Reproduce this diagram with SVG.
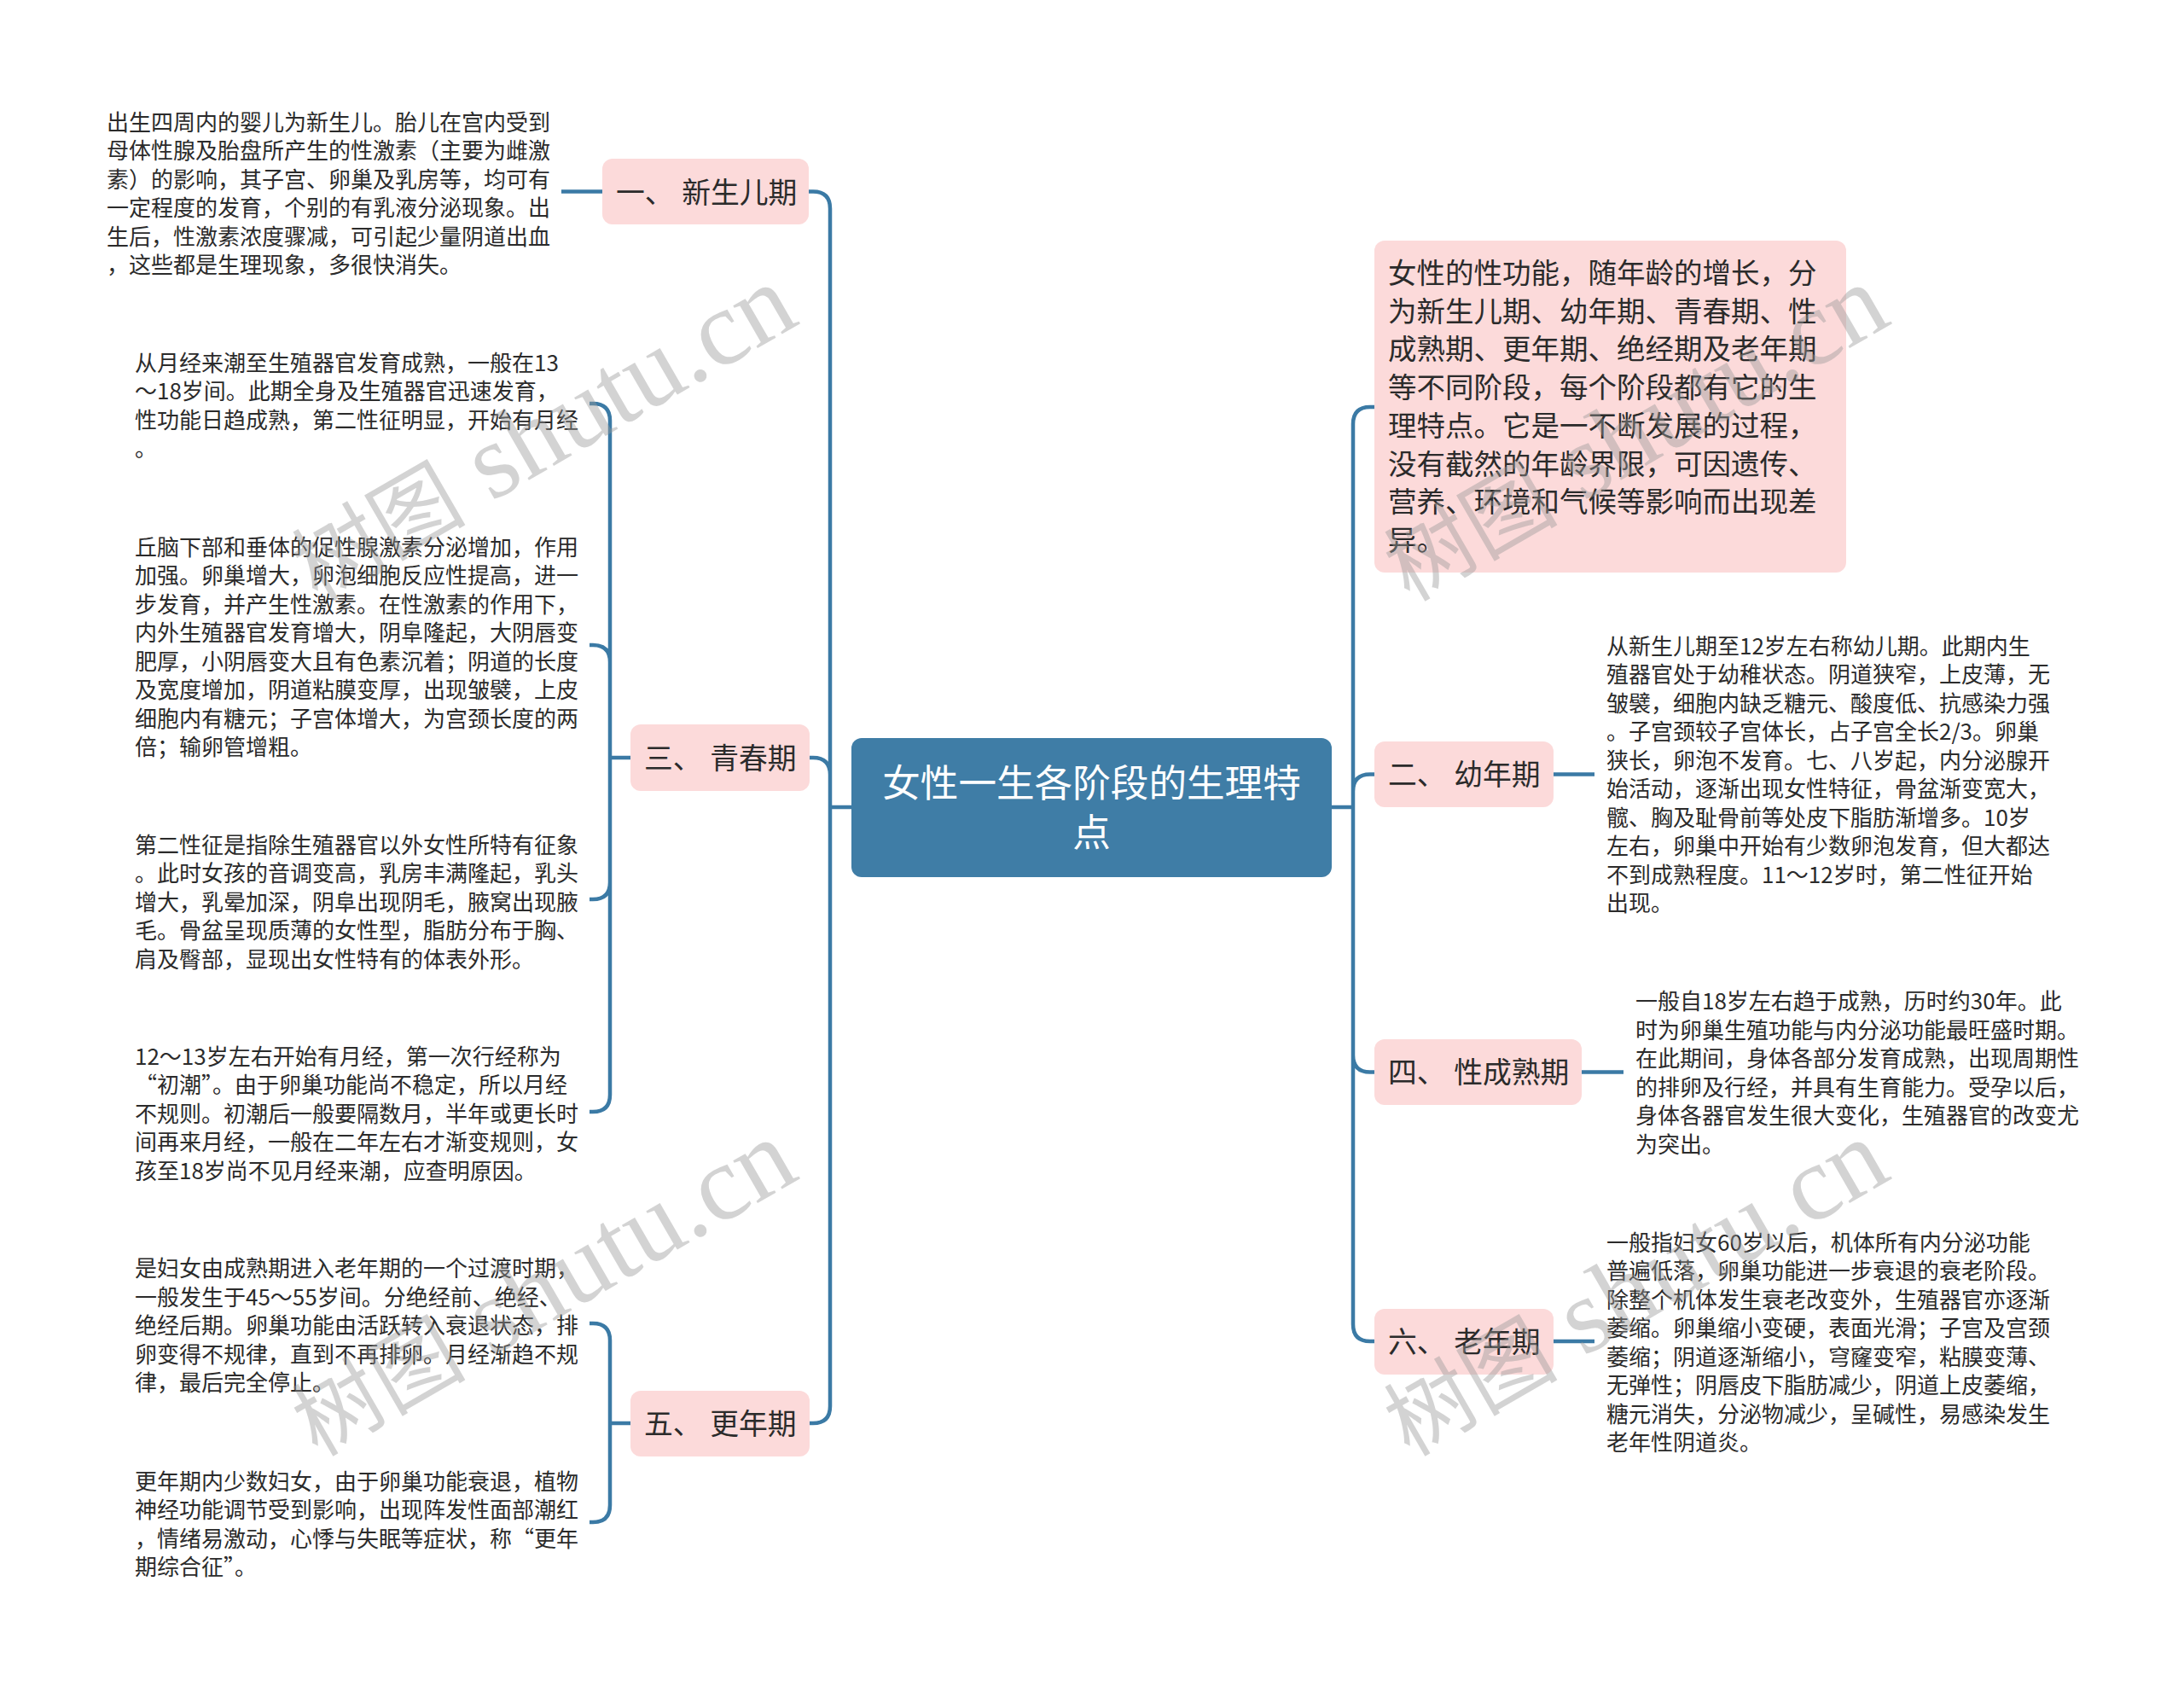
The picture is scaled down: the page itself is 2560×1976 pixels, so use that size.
<svg xmlns="http://www.w3.org/2000/svg" width="2560" height="1976" viewBox="0 0 2560 1976">
<style>
text{font-family:"Noto Sans CJK SC","Liberation Sans",sans-serif;fill:#2b2b2b}
.s{font-size:26px}
.m{font-size:33.8px;word-spacing:2px}
.i{font-size:33.5px}
.r{font-size:44.6px;fill:#fff;text-anchor:middle}
.n{fill:#fcdada}
.c{fill:none;stroke:#3b7aa5;stroke-width:4.5}
.w{font-family:"Liberation Serif","Noto Sans CJK SC",serif;font-size:125px;fill:#999;opacity:.42}
.w .h{font-size:102px}
</style>
<rect width="2560" height="1976" fill="#fff"/>
<g id="connectors">
<path class="c" d="M948 224.5h5q20 0 20 20V1648q0 20-20 20h-4M949 888h4q20 0 20 20M998 946H973"/>
<path class="c" d="M691 473h4q20 0 20 20V1283q0 20-20 20h-4M691 756h4q20 0 20 20M691 1054h4q20 0 20-20M739 888H715"/>
<path class="c" d="M691 1551h4q20 0 20 20V1764q0 20-20 20h-4M739 1668H715"/>
<path class="c" d="M1611 477h-5q-20 0-20 20V1552q0 20 20 20h5M1611 907.5h-5q-20 0-20 20M1611 1256.5h-5q-20 0-20-20M1561 946H1586"/>
<path class="c" d="M1821 907.5H1869M1854 1256.5H1903M1821 1572H1869M706 224.5H658"/>
</g>
<g id="root"><rect x="998" y="865" width="563" height="163" rx="12" fill="#3f7da6"/>
<text class="r" y="934"><tspan x="1279.5">女性一生各阶段的生理特</tspan><tspan x="1279.5" dy="58">点</tspan></text></g>
<g id="n1"><rect class="n" x="706" y="186" width="242" height="77" rx="12"/><text class="m" x="722" y="238">一、 新生儿期</text></g>
<g id="n3"><rect class="n" x="739" y="849" width="210" height="78" rx="12"/><text class="m" x="755" y="901">三、 青春期</text></g>
<g id="n5"><rect class="n" x="739" y="1630" width="210" height="77" rx="12"/><text class="m" x="755" y="1681">五、 更年期</text></g>
<g id="intro"><rect class="n" x="1611" y="282" width="553" height="389" rx="12"/>
<text class="i" y="332"><tspan x="1627">女性的性功能，随年龄的增长，分</tspan><tspan x="1627" dy="44.7">为新生儿期、幼年期、青春期、性</tspan><tspan x="1627" dy="44.7">成熟期、更年期、绝经期及老年期</tspan><tspan x="1627" dy="44.7">等不同阶段，每个阶段都有它的生</tspan><tspan x="1627" dy="44.7">理特点。它是一不断发展的过程，</tspan><tspan x="1627" dy="44.7">没有截然的年龄界限，可因遗传、</tspan><tspan x="1627" dy="44.7">营养、环境和气候等影响而出现差</tspan><tspan x="1627" dy="44.7">异。</tspan></text></g>
<g id="n2"><rect class="n" x="1611" y="869" width="210" height="77" rx="12"/><text class="m" x="1627" y="919.5">二、 幼年期</text></g>
<g id="n4"><rect class="n" x="1611" y="1218" width="243" height="77" rx="12"/><text class="m" x="1627" y="1268.5">四、 性成熟期</text></g>
<g id="n6"><rect class="n" x="1611" y="1534" width="210" height="77" rx="12"/><text class="m" x="1627" y="1584.5">六、 老年期</text></g>
<g id="t1"><text class="s" y="152.5"><tspan x="125">出生四周内的婴儿为新生儿。胎儿在宫内受到</tspan><tspan x="125" dy="33.5">母体性腺及胎盘所产生的性激素（主要为雌激</tspan><tspan x="125" dy="33.5">素）的影响，其子宫、卵巢及乳房等，均可有</tspan><tspan x="125" dy="33.5">一定程度的发育，个别的有乳液分泌现象。出</tspan><tspan x="125" dy="33.5">生后，性激素浓度骤减，可引起少量阴道出血</tspan><tspan x="125" dy="33.5">，这些都是生理现象，多很快消失。</tspan></text></g>
<g id="t3a"><text class="s" y="434.5"><tspan x="158">从月经来潮至生殖器官发育成熟，一般在13</tspan><tspan x="158" dy="33.5">～18岁间。此期全身及生殖器官迅速发育，</tspan><tspan x="158" dy="33.5">性功能日趋成熟，第二性征明显，开始有月经</tspan><tspan x="158" dy="33.5">。</tspan></text></g>
<g id="t3b"><text class="s" y="650.5"><tspan x="158">丘脑下部和垂体的促性腺激素分泌增加，作用</tspan><tspan x="158" dy="33.5">加强。卵巢增大，卵泡细胞反应性提高，进一</tspan><tspan x="158" dy="33.5">步发育，并产生性激素。在性激素的作用下，</tspan><tspan x="158" dy="33.5">内外生殖器官发育增大，阴阜隆起，大阴唇变</tspan><tspan x="158" dy="33.5">肥厚，小阴唇变大且有色素沉着；阴道的长度</tspan><tspan x="158" dy="33.5">及宽度增加，阴道粘膜变厚，出现皱襞，上皮</tspan><tspan x="158" dy="33.5">细胞内有糖元；子宫体增大，为宫颈长度的两</tspan><tspan x="158" dy="33.5">倍；输卵管增粗。</tspan></text></g>
<g id="t3c"><text class="s" y="999.5"><tspan x="158">第二性征是指除生殖器官以外女性所特有征象</tspan><tspan x="158" dy="33.5">。此时女孩的音调变高，乳房丰满隆起，乳头</tspan><tspan x="158" dy="33.5">增大，乳晕加深，阴阜出现阴毛，腋窝出现腋</tspan><tspan x="158" dy="33.5">毛。骨盆呈现质薄的女性型，脂肪分布于胸、</tspan><tspan x="158" dy="33.5">肩及臀部，显现出女性特有的体表外形。</tspan></text></g>
<g id="t3d"><text class="s" y="1247.5"><tspan x="158">12～13岁左右开始有月经，第一次行经称为</tspan><tspan x="158" dy="33.5">“初潮”。由于卵巢功能尚不稳定，所以月经</tspan><tspan x="158" dy="33.5">不规则。初潮后一般要隔数月，半年或更长时</tspan><tspan x="158" dy="33.5">间再来月经，一般在二年左右才渐变规则，女</tspan><tspan x="158" dy="33.5">孩至18岁尚不见月经来潮，应查明原因。</tspan></text></g>
<g id="t5a"><text class="s" y="1496"><tspan x="158">是妇女由成熟期进入老年期的一个过渡时期，</tspan><tspan x="158" dy="33.5">一般发生于45～55岁间。分绝经前、绝经、</tspan><tspan x="158" dy="33.5">绝经后期。卵巢功能由活跃转入衰退状态，排</tspan><tspan x="158" dy="33.5">卵变得不规律，直到不再排卵。月经渐趋不规</tspan><tspan x="158" dy="33.5">律，最后完全停止。</tspan></text></g>
<g id="t5b"><text class="s" y="1745.5"><tspan x="158">更年期内少数妇女，由于卵巢功能衰退，植物</tspan><tspan x="158" dy="33.5">神经功能调节受到影响，出现阵发性面部潮红</tspan><tspan x="158" dy="33.5">，情绪易激动，心悸与失眠等症状，称“更年</tspan><tspan x="158" dy="33.5">期综合征”。</tspan></text></g>
<g id="t2"><text class="s" y="766.5"><tspan x="1883">从新生儿期至12岁左右称幼儿期。此期内生</tspan><tspan x="1883" dy="33.5">殖器官处于幼稚状态。阴道狭窄，上皮薄，无</tspan><tspan x="1883" dy="33.5">皱襞，细胞内缺乏糖元、酸度低、抗感染力强</tspan><tspan x="1883" dy="33.5">。子宫颈较子宫体长，占子宫全长2/3。卵巢</tspan><tspan x="1883" dy="33.5">狭长，卵泡不发育。七、八岁起，内分泌腺开</tspan><tspan x="1883" dy="33.5">始活动，逐渐出现女性特征，骨盆渐变宽大，</tspan><tspan x="1883" dy="33.5">髋、胸及耻骨前等处皮下脂肪渐增多。10岁</tspan><tspan x="1883" dy="33.5">左右，卵巢中开始有少数卵泡发育，但大都达</tspan><tspan x="1883" dy="33.5">不到成熟程度。11～12岁时，第二性征开始</tspan><tspan x="1883" dy="33.5">出现。</tspan></text></g>
<g id="t4"><text class="s" y="1183"><tspan x="1917">一般自18岁左右趋于成熟，历时约30年。此</tspan><tspan x="1917" dy="33.5">时为卵巢生殖功能与内分泌功能最旺盛时期。</tspan><tspan x="1917" dy="33.5">在此期间，身体各部分发育成熟，出现周期性</tspan><tspan x="1917" dy="33.5">的排卵及行经，并具有生育能力。受孕以后，</tspan><tspan x="1917" dy="33.5">身体各器官发生很大变化，生殖器官的改变尤</tspan><tspan x="1917" dy="33.5">为突出。</tspan></text></g>
<g id="t6"><text class="s" y="1465.5"><tspan x="1883">一般指妇女60岁以后，机体所有内分泌功能</tspan><tspan x="1883" dy="33.5">普遍低落，卵巢功能进一步衰退的衰老阶段。</tspan><tspan x="1883" dy="33.5">除整个机体发生衰老改变外，生殖器官亦逐渐</tspan><tspan x="1883" dy="33.5">萎缩。卵巢缩小变硬，表面光滑；子宫及宫颈</tspan><tspan x="1883" dy="33.5">萎缩；阴道逐渐缩小，穹窿变窄，粘膜变薄、</tspan><tspan x="1883" dy="33.5">无弹性；阴唇皮下脂肪减少，阴道上皮萎缩，</tspan><tspan x="1883" dy="33.5">糖元消失，分泌物减少，呈碱性，易感染发生</tspan><tspan x="1883" dy="33.5">老年性阴道炎。</tspan></text></g>
<g id="watermarks">
<text class="w" transform="translate(372 706) rotate(-30)"><tspan class="h">树图</tspan> shutu.cn</text>
<text class="w" transform="translate(1652 706) rotate(-30)"><tspan class="h">树图</tspan> shutu.cn</text>
<text class="w" transform="translate(372 1708) rotate(-30)"><tspan class="h">树图</tspan> shutu.cn</text>
<text class="w" transform="translate(1652 1708) rotate(-30)"><tspan class="h">树图</tspan> shutu.cn</text>
</g>
</svg>
